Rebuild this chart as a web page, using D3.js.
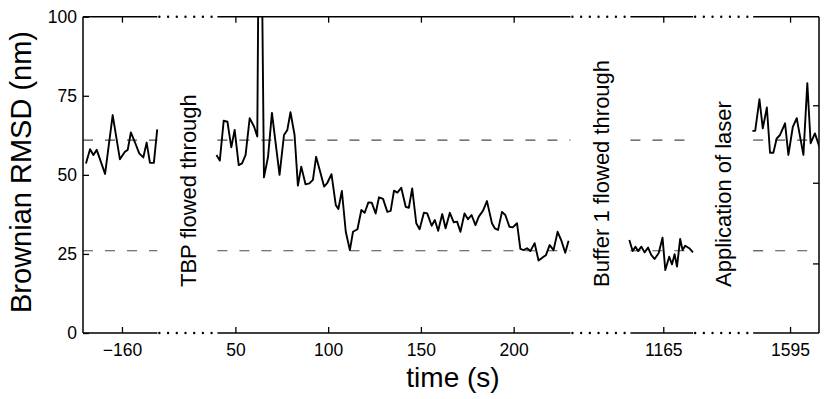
<!DOCTYPE html>
<html>
<head>
<meta charset="utf-8">
<script src="https://cdn.jsdelivr.net/npm/d3@7"></script>
<style>
  body { margin: 0; background: #fff; }
  svg { display: block; font-family: "Liberation Sans", Arial, Helvetica, sans-serif; }
</style>
</head>
<body>
<svg id="chart" width="830" height="399"></svg>
<script>
// --- data: [time (s), RMSD (nm)] ---
const seg1Points = [
  [-179.4, 53.6], [-177.2, 58.1], [-175.4, 56.3], [-173.6, 57.9], [-169.1, 50.3],
  [-165.0, 68.9], [-161.1, 54.9], [-158.4, 57.3], [-156.9, 57.9], [-155.2, 63.4],
  [-153.0, 60.3], [-150.7, 56.8], [-148.5, 55.5], [-146.7, 60.2], [-144.9, 53.8],
  [-142.8, 53.8], [-141.0, 64.4]
];
const seg2Points = [
  [39.8, 56.3], [41.6, 54.5], [43.7, 67.1], [45.7, 66.8], [47.8, 58.7], [49.6, 64.2],
  [51.8, 53.1], [53.6, 53.6], [55.5, 56.3], [57.7, 67.9], [60.1, 65.2], [61.8, 62.1],
  [63.2, 180], [65.4, 49.2], [67.6, 55.7], [69.7, 69.6], [71.7, 60.0], [73.8, 50.0],
  [76.2, 62.6], [78.0, 64.2], [79.7, 69.8], [81.9, 62.6], [83.7, 46.6], [85.5, 52.6],
  [87.8, 47.0], [89.9, 47.3], [91.8, 48.4], [93.5, 55.7], [95.7, 51.0], [97.8, 46.3],
  [99.6, 47.5], [101.8, 50.2], [104.1, 40.5], [105.5, 39.2], [107.4, 44.9], [109.5, 32.0],
  [111.7, 26.2], [113.4, 32.0], [115.8, 32.8], [117.9, 38.9], [119.7, 38.0], [121.7, 41.3],
  [123.5, 41.2], [125.6, 37.8], [127.4, 42.9], [129.6, 42.4], [131.9, 38.3], [133.7, 38.6],
  [135.5, 45.0], [137.3, 44.4], [139.4, 45.9], [141.8, 39.9], [143.5, 39.6], [145.3, 45.7],
  [147.5, 34.7], [149.3, 32.8], [151.6, 38.0], [153.4, 37.8], [155.8, 33.9], [157.5, 35.7],
  [159.3, 32.3], [161.5, 37.6], [163.3, 33.1], [165.6, 38.0], [167.7, 35.0], [169.5, 35.2],
  [171.3, 32.0], [173.5, 37.8], [175.4, 36.0], [177.3, 37.3], [179.4, 34.1], [181.2, 36.8],
  [183.5, 38.7], [185.6, 41.7], [188.3, 34.7], [189.8, 33.1], [191.6, 32.6], [193.7, 38.3],
  [195.5, 37.3], [197.7, 33.6], [199.5, 33.4], [201.8, 34.7], [203.6, 26.6], [205.4, 26.2],
  [207.2, 26.8], [209.0, 25.9], [211.3, 28.4], [213.4, 22.9], [215.6, 23.9], [217.4, 24.6],
  [219.4, 27.8], [221.5, 26.2], [223.7, 32.0], [225.6, 29.4], [227.8, 25.4], [229.6, 29.2]
];
const seg3Points = [
  [1146.7, 29.4], [1148.5, 25.9], [1150.0, 27.3], [1151.4, 25.9], [1153.2, 27.3],
  [1154.9, 25.5], [1156.8, 27.0], [1158.5, 24.7], [1160.3, 23.4], [1162.5, 25.2],
  [1164.6, 30.1], [1166.1, 19.9], [1168.2, 24.1], [1169.7, 21.7], [1171.1, 24.9],
  [1172.4, 21.0], [1174.1, 29.7], [1175.4, 26.2], [1176.8, 27.6], [1179.0, 26.8],
  [1181.0, 25.5]
];
const seg4Points = [
  [1574.7, 63.9], [1576.2, 63.9], [1578.5, 73.9], [1580.3, 64.7], [1582.5, 71.3],
  [1584.2, 57.0], [1586.0, 57.0], [1587.8, 61.5], [1589.6, 62.6], [1592.3, 66.3],
  [1594.1, 56.3], [1596.5, 65.2], [1598.6, 67.9], [1600.4, 62.1], [1602.2, 56.3],
  [1604.3, 79.0], [1606.1, 60.0], [1608.4, 63.1], [1610.8, 58.9], [1612.5, 55.0]
];

const segDomains = [[-181, -140.9], [40.3, 230.6], [1147.3, 1181.1], [1575.1, 1610.6]];
const segTicks = [[-160], [50, 100, 150, 200], [1165], [1595]];
const yTicks = [0, 25, 50, 75, 100];
const rightTicks = [72, 47.5, 22];
const refLevels = [61, 26];
const annotations = ["TBP flowed through", "Buffer 1 flowed through", "Application of laser"];

// --- layout ---
const svg = d3.select('#chart');
const plotLeft = 83, plotRight = 819, plotTop = 16.7, plotBottom = 333;
const gap = 60;
const totalSec = d3.sum(segDomains, d => d[1] - d[0]);
const pxPerSec = (plotRight - plotLeft - gap * (segDomains.length - 1)) / totalSec;

const y = d3.scaleLinear().domain([0, 100]).range([plotBottom, plotTop]);

let cursor = plotLeft;
const xScales = segDomains.map(dom => {
    const w = (dom[1] - dom[0]) * pxPerSec;
    const s = d3.scaleLinear().domain(dom).range([cursor, cursor + w]);
    cursor += w + gap;
    return s;
});

svg.append('defs').append('clipPath')
    .attr('id', 'plotClip')
    .append('rect')
    .attr('x', plotLeft).attr('y', plotTop)
    .attr('width', plotRight - plotLeft).attr('height', plotBottom - plotTop);

// dashed reference levels, only inside each segment
xScales.forEach(xs => {
    const [x0, x1] = xs.range();
    svg.append('g').selectAll('line')
        .data(refLevels)
        .join('line')
        .attr('x1', x0).attr('x2', x1)
        .attr('y1', d => y(d)).attr('y2', d => y(d))
        .attr('stroke', '#4a4a4a')
        .attr('stroke-width', 1.2)
        .attr('stroke-dasharray', '10,12');
});

// data lines
const allSegs = [seg1Points, seg2Points, seg3Points, seg4Points];
allSegs.forEach((pts, i) => {
    const xs = xScales[i];
    const line = d3.line().x(d => xs(d[0])).y(d => y(d[1]));
    svg.append('path')
        .datum(pts)
        .attr('clip-path', 'url(#plotClip)')
        .attr('d', line)
        .attr('fill', 'none')
        .attr('stroke', '#000')
        .attr('stroke-width', 1.9)
        .attr('stroke-linejoin', 'round');
});

// box: solid over segments, dotted over gaps
const frame = svg.append('g').attr('stroke', '#000').attr('fill', 'none');
xScales.forEach((xs, i) => {
    const [x0, x1] = xs.range();
    [plotTop, plotBottom].forEach(yy => {
        frame.append('line').attr('x1', x0).attr('x2', x1).attr('y1', yy).attr('y2', yy)
            .attr('stroke-width', 1.5);
    });
    if (i < xScales.length - 1) {
        const gx0 = x1, gx1 = xScales[i + 1].range()[0];
        [plotTop, plotBottom].forEach(yy => {
            frame.append('line').attr('x1', gx0 + 2).attr('x2', gx1).attr('y1', yy).attr('y2', yy)
                .attr('stroke-width', 2.4)
                .attr('stroke-linecap', 'round')
                .attr('stroke-dasharray', '0,8.7');
        });
    }
});
frame.append('line').attr('x1', plotLeft).attr('x2', plotLeft).attr('y1', plotTop).attr('y2', plotBottom).attr('stroke-width', 1.5);
frame.append('line').attr('x1', plotRight).attr('x2', plotRight).attr('y1', plotTop).attr('y2', plotBottom).attr('stroke-width', 1.5);

// axes
function styleAxis(g, size) {
    g.select('.domain').remove();
    g.selectAll('line').attr('stroke', '#000').attr('stroke-width', 1.3);
    g.selectAll('text').attr('fill', '#000').style('font-size', size + 'px')
        .style('font-family', '"Liberation Sans", Arial, Helvetica, sans-serif');
}

xScales.forEach((xs, i) => {
    svg.append('g')
        .attr('transform', `translate(0,${plotBottom})`)
        .call(d3.axisBottom(xs).tickValues(segTicks[i]).tickSizeInner(-6).tickSizeOuter(0)
            .tickPadding(11).tickFormat(d3.format('d')))
        .call(g => styleAxis(g, 17.5));
    svg.append('g')
        .attr('transform', `translate(0,${plotTop})`)
        .call(d3.axisTop(xs).tickValues(segTicks[i]).tickSizeInner(-6).tickSizeOuter(0).tickFormat(''))
        .call(g => styleAxis(g, 17.5));
});

svg.append('g')
    .attr('transform', `translate(${plotLeft},0)`)
    .call(d3.axisLeft(y).tickValues(yTicks).tickSizeInner(-6).tickSizeOuter(0).tickPadding(6))
    .call(g => styleAxis(g, 17.5));

svg.append('g')
    .attr('transform', `translate(${plotRight},0)`)
    .call(d3.axisRight(y).tickValues(rightTicks).tickSizeInner(-6).tickSizeOuter(0).tickFormat(''))
    .call(g => styleAxis(g, 17.5));

// axis titles
svg.append('text')
    .attr('transform', 'translate(31,172) rotate(-90)')
    .attr('text-anchor', 'middle')
    .style('font-size', '29px')
    .text('Brownian RMSD (nm)');

svg.append('text')
    .attr('x', 453).attr('y', 387)
    .attr('text-anchor', 'middle')
    .style('font-size', '28px')
    .text('time (s)');

// event annotations, placed in the gaps
const annoX = [196, 609, 731];
annotations.forEach((t, i) => {
    svg.append('text')
        .attr('transform', `translate(${annoX[i]},287) rotate(-90)`)
        .attr('text-anchor', 'start')
        .style('font-size', '22px')
        .text(t);
});
</script>
</body>
</html>
